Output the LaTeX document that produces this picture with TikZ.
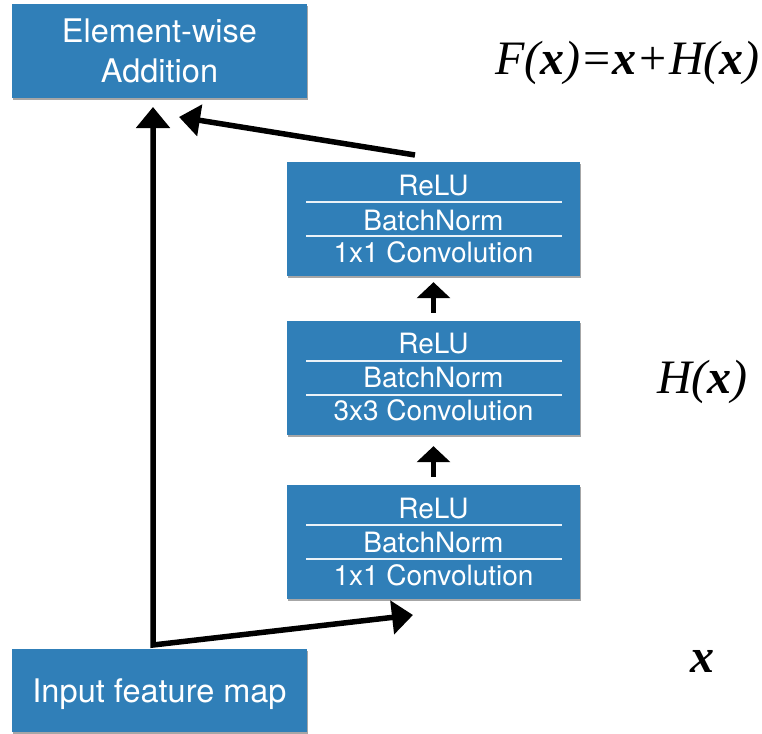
\documentclass[tikz,border=0pt]{standalone}
\usepackage{fontspec}
\setmainfont{TeX Gyre Heros}
\newfontfamily\tms{Liberation Serif}
\usetikzlibrary{arrows.meta,calc,shadows}
\definecolor{boxblue}{RGB}{48,127,184}
\begin{document}
\begin{tikzpicture}[x=1pt,y=-1pt,
  box/.style={fill=boxblue, draw=none, inner sep=0pt,
    drop shadow={shadow xshift=1pt, shadow yshift=-2pt, opacity=0.35, fill=black}},
  bigtxt/.style={text=white, inner sep=0pt, anchor=base, font=\fontsize{32.5}{36}\selectfont},
  txt/.style={text=white, inner sep=0pt, anchor=base, font=\fontsize{28}{32}\selectfont},
  sep/.style={draw=white!90!boxblue, line width=1.5pt},
  bigarr/.style={line width=5.5pt, line join=miter, {Triangle[width=33pt,length=21pt]}-{Triangle[width=33pt,length=21pt]}},
  diagarr/.style={line width=5.5pt, -{Triangle[width=31pt,length=21pt]}},
  smallarr/.style={line width=5pt, -{Triangle[width=33pt,length=16pt]}},
  math/.style={inner sep=0pt, anchor=base west, font=\tms\itshape\fontsize{48}{52}\selectfont}
]
\useasboundingbox (0,0) rectangle (762,733);

% top box
\node[box, minimum width=295pt, minimum height=94pt] (add) at (159.5,51) {};
\node[bigtxt] (addt1) at (159.5,43) {Element-wise};
\node[bigtxt] (addt2) at (159.5,83) {Addition};

% bottom box
\node[box, minimum width=295pt, minimum height=83pt] (inp) at (159.5,690.5) {};
\node[bigtxt] (inpt) at (159.5,702) {Input feature map};

% block 1
\node[box, minimum width=293pt, minimum height=114pt] (b1) at (433.5,219) {};
\draw[sep] ($(b1.center)+(-127.5,-17)$) -- ($(b1.center)+(128.5,-17)$);
\draw[sep] ($(b1.center)+(-127.5,17)$) -- ($(b1.center)+(128.5,17)$);
\node[txt] (b1a) at ($(b1.center)+(0,-24)$) {ReLU};
\node[txt] (b1b) at ($(b1.center)+(0,11)$) {BatchNorm};
\node[txt] (b1c) at ($(b1.center)+(0,43)$) {1x1 Convolution};

% block 2
\node[box, minimum width=293pt, minimum height=114pt] (b2) at (433.5,378) {};
\draw[sep] ($(b2.center)+(-127.5,-17)$) -- ($(b2.center)+(128.5,-17)$);
\draw[sep] ($(b2.center)+(-127.5,17)$) -- ($(b2.center)+(128.5,17)$);
\node[txt] (b2a) at ($(b2.center)+(0,-25)$) {ReLU};
\node[txt] (b2b) at ($(b2.center)+(0,9)$) {BatchNorm};
\node[txt] (b2c) at ($(b2.center)+(0,42)$) {3x3 Convolution};

% block 3
\node[box, minimum width=293pt, minimum height=114pt] (b3) at (433.5,542) {};
\draw[sep] ($(b3.center)+(-127.5,-17)$) -- ($(b3.center)+(128.5,-17)$);
\draw[sep] ($(b3.center)+(-127.5,17)$) -- ($(b3.center)+(128.5,17)$);
\node[txt] (b3a) at ($(b3.center)+(0,-24)$) {ReLU};
\node[txt] (b3b) at ($(b3.center)+(0,10)$) {BatchNorm};
\node[txt] (b3c) at ($(b3.center)+(0,43)$) {1x1 Convolution};

% connector points
\coordinate (j) at (153,645);
\coordinate (toptip) at (153,107);
\coordinate (bottip) at (413,615);
\coordinate (dstart) at (415,155);
\coordinate (dtip) at (179,117);

% arrows
\draw[bigarr] (toptip) -- (j) -- (bottip);
\draw[diagarr] (dstart) -- (dtip);
\draw[smallarr, shorten <=8pt, shorten >=6pt] (b2.north) -- (b1.south);
\draw[smallarr, shorten <=8pt, shorten >=11pt] (b3.north) -- (b2.south);

% formulas
\node[math] (fx) at (495,75) {F(\textbf{x})=\textbf{x}+H(\textbf{x})};
\node[math] (hx) at (657,393) {H(\textbf{x})};
\node[math] (xx) at (690,672) {\textbf{x}};
\end{tikzpicture}
\end{document}
